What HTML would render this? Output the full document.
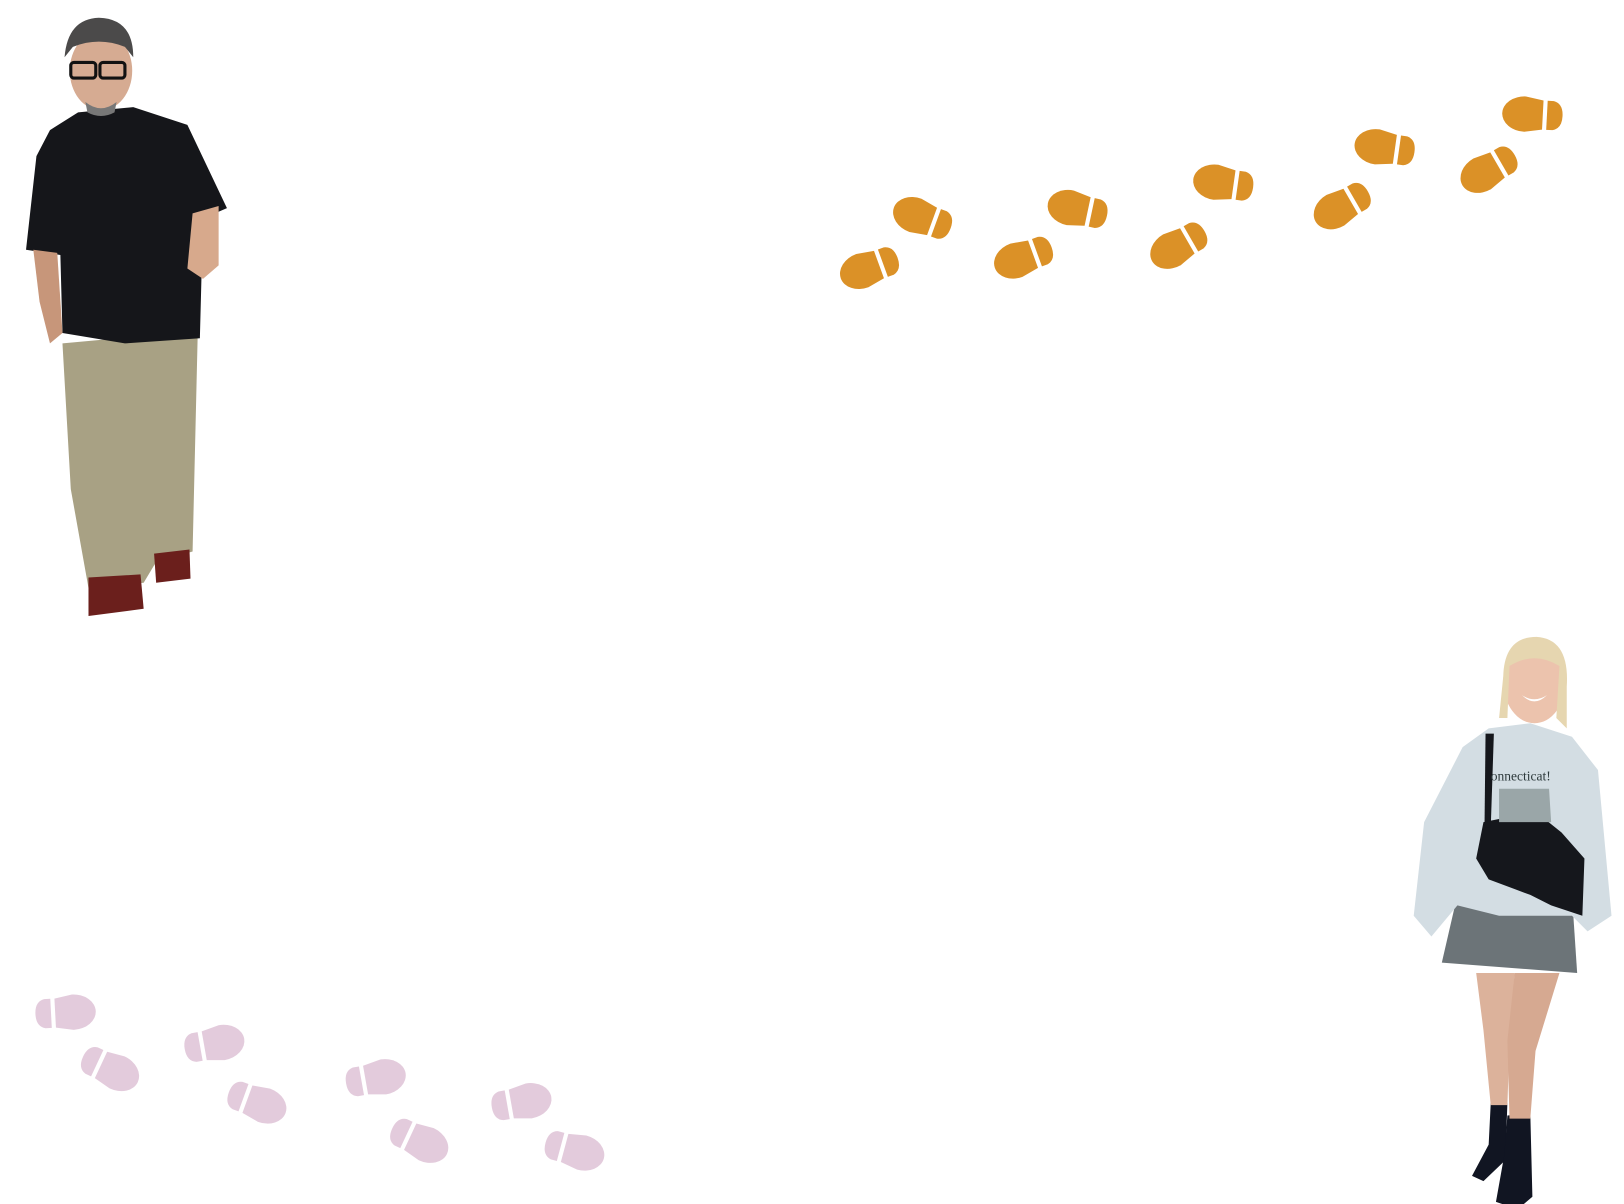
<!DOCTYPE html>
<html><head><meta charset="utf-8"><style>
html,body{margin:0;padding:0;background:#fff;}
svg{display:block;}
</style></head><body>
<svg width="1624" height="1204" viewBox="0 0 1560 1157" preserveAspectRatio="none" xmlns="http://www.w3.org/2000/svg">
<defs>
<g id="fp">
<path d="M11,-14 L-6,-17 A22 17 0 0 0 -6,17 L11,14 Z"/>
<path d="M15,-14 L21,-14 Q30,-12 30,0 Q30,12 21,14 L15,14 Z"/>
</g>
</defs>
<g fill="#db9127">
<use href="#fp" transform="translate(834,258) rotate(-20)"/>
<use href="#fp" transform="translate(885,209) rotate(20)"/>
<use href="#fp" transform="translate(982,248) rotate(-20)"/>
<use href="#fp" transform="translate(1034,201) rotate(12)"/>
<use href="#fp" transform="translate(1131,237) rotate(-30)"/>
<use href="#fp" transform="translate(1174,176) rotate(8)"/>
<use href="#fp" transform="translate(1288,199) rotate(-30)"/>
<use href="#fp" transform="translate(1329,142) rotate(8)"/>
<use href="#fp" transform="translate(1429,164) rotate(-30)"/>
<use href="#fp" transform="translate(1471,110) rotate(3)"/>
</g>
<g fill="#e3cbdc">
<use href="#fp" transform="translate(64,973) scale(-1,1) rotate(3)"/>
<use href="#fp" transform="translate(107,1028) scale(-1,1) rotate(-25)"/>
<use href="#fp" transform="translate(207,1003) scale(-1,1) rotate(10)"/>
<use href="#fp" transform="translate(248,1060) scale(-1,1) rotate(-20)"/>
<use href="#fp" transform="translate(362,1036) scale(-1,1) rotate(10)"/>
<use href="#fp" transform="translate(404,1097) scale(-1,1) rotate(-25)"/>
<use href="#fp" transform="translate(502,1059) scale(-1,1) rotate(10)"/>
<use href="#fp" transform="translate(553,1106) scale(-1,1) rotate(-15)"/>
</g>
<!-- man -->
<g>
<path d="M60 330 L190 318 L185 530 L150 540 L138 560 L85 565 L68 470 Z" fill="#a8a184"/>
<path d="M85 555 L135 552 L138 585 L85 592 Z" fill="#6b1f1c"/>
<path d="M148 532 L182 528 L183 556 L150 560 Z" fill="#6b1f1c"/>
<path d="M48 125 L75 108 L128 103 L180 120 L218 200 L195 210 L192 325 L120 330 L60 320 L58 245 L25 240 L35 150 Z" fill="#15161a"/>
<path d="M185 205 L210 198 L210 255 L195 268 L180 258 Z" fill="#d7a98c"/>
<path d="M32 240 L55 243 L60 320 L48 330 L38 290 Z" fill="#c7967a"/>
<ellipse cx="97" cy="68" rx="30" ry="38" fill="#d6ab92"/>
<path d="M62 55 Q65 18 95 17 Q128 18 128 55 L120 45 Q95 35 70 45 Z" fill="#4b4a4a"/>
<rect x="68" y="60" width="24" height="15" rx="3" fill="none" stroke="#111" stroke-width="3"/>
<rect x="96" y="60" width="24" height="15" rx="3" fill="none" stroke="#111" stroke-width="3"/>
<path d="M82 98 Q97 110 112 98 L110 108 Q97 115 84 108Z" fill="#777"/>
</g>
<!-- woman -->
<g>
<path d="M1432 1060 L1448 1060 L1446 1115 L1425 1135 L1414 1130 L1430 1100 Z" fill="#111522"/>
<path d="M1448 1072 L1470 1070 L1472 1150 L1458 1162 L1437 1155 L1445 1110 Z" fill="#111522"/>
<path d="M1418 935 L1455 935 L1450 1000 L1448 1062 L1432 1062 L1425 990 Z" fill="#dcb29b"/>
<path d="M1455 935 L1498 935 L1475 1010 L1470 1075 L1450 1075 L1448 1000 Z" fill="#d6a991"/>
<path d="M1400 860 L1510 860 L1515 935 L1385 925 Z" fill="#6c7478"/>
<path d="M1405 718 L1430 700 L1470 695 L1510 708 L1535 740 L1548 880 L1525 895 L1510 880 L1440 880 L1400 870 L1375 900 L1358 880 L1368 790 Z" fill="#d3dde3"/>
<path d="M1425 790 L1475 780 L1500 800 L1522 825 L1520 880 L1490 870 L1470 860 L1430 845 L1418 825 Z" fill="#15171c"/>
<path d="M1427 705 L1435 705 L1432 795 L1426 795 Z" fill="#15171c"/>
<text x="1432" y="750" font-family="Liberation Serif, serif" font-size="13" fill="#2e3a3c">onnecticat!</text>
<path d="M1440 758 L1488 758 L1490 790 L1440 790 Z" fill="#9aa6a8"/>
<ellipse cx="1474" cy="655" rx="30" ry="40" fill="#ecc3ad"/>
<path d="M1444 650 Q1445 612 1476 612 Q1508 614 1505 660 L1505 700 L1495 690 L1498 640 Q1474 625 1450 640 L1448 690 L1440 690 Z" fill="#e6d6b0"/>
<path d="M1462 668 Q1474 676 1486 668 Q1474 680 1462 668Z" fill="#fff"/>
</g>
</svg>
</body></html>
